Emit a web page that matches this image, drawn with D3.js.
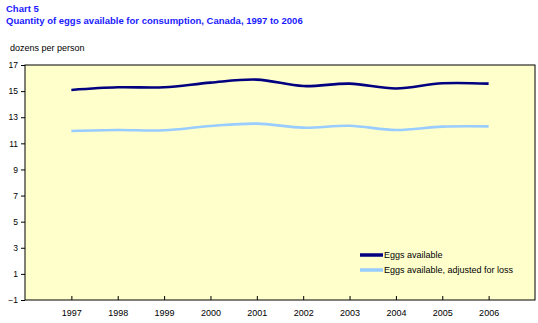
<!DOCTYPE html>
<html><head><meta charset="utf-8">
<script src="https://cdn.jsdelivr.net/npm/d3@7"></script>
<style>body{margin:0;background:#fff}svg{display:block}</style>
</head><body>
<script>
const years = [1997,1998,1999,2000,2001,2002,2003,2004,2005,2006];
const eggsAvailable = [15.09,15.29,15.29,15.65,15.88,15.39,15.57,15.2,15.6,15.57];
const eggsAdjusted = [11.95,12.02,12.0,12.33,12.51,12.2,12.35,12.02,12.28,12.3];
const yTicks = [-1,1,3,5,7,9,11,13,15,17];
const seriesNames = ["Eggs available","Eggs available, adjusted for loss"];
const colors = ["#000080","#99CCFF"];

const W=538,H=323;
const svg=d3.select("body").append("svg").attr("width",W).attr("height",H);
const L=25,R=535,T=65,B=300;
const x=d3.scaleLinear().domain([1996,2007]).range([L,R]);
const y=d3.scaleLinear().domain([-1,17]).range([B,T]);
const font="Arial, 'Liberation Sans', sans-serif";

svg.append("text").attr("x",6).attr("y",12).text("Chart 5")
 .attr("font-family",font).attr("font-weight","bold").attr("font-size",9.5).attr("fill","#1a1aff");
svg.append("text").attr("x",6).attr("y",24).text("Quantity of eggs available for consumption, Canada, 1997 to 2006")
 .attr("font-family",font).attr("font-weight","bold").attr("font-size",9.5).attr("fill","#1a1aff");
svg.append("text").attr("x",10).attr("y",51).text("dozens per person")
 .attr("font-family",font).attr("font-size",9).attr("fill","#000");

svg.append("rect").attr("x",L).attr("y",T).attr("width",R-L).attr("height",B-T)
 .attr("fill","#FFFFCC").attr("stroke","#000").attr("stroke-width",1);

const ya=svg.append("g").attr("transform",`translate(${L},0)`)
 .call(d3.axisLeft(y).tickValues(yTicks).tickSize(4).tickPadding(3).tickFormat(d3.format("d")));
ya.select(".domain").remove();
ya.selectAll("text").attr("font-family",font).attr("font-size",8.5).attr("fill","#000");

const xa=svg.append("g").attr("transform",`translate(0,${B})`)
 .call(d3.axisTop(x).tickValues(years).tickSize(4).tickFormat(d3.format("d")));
xa.select(".domain").remove();
xa.selectAll("text").attr("y",16).attr("font-family",font).attr("font-size",9).attr("fill","#000");

const line=d3.line().x((d,i)=>x(years[i])).y(d=>y(d)).curve(d3.curveCatmullRom.alpha(0.5));
[eggsAvailable,eggsAdjusted].forEach((s,k)=>{
  svg.append("path").attr("d",line(s)).attr("fill","none").attr("stroke",colors[k]).attr("stroke-width",2.6);
});

const lg=svg.append("g");
seriesNames.forEach((n,k)=>{
  const yy=255+k*15;
  lg.append("line").attr("x1",360).attr("x2",383).attr("y1",yy).attr("y2",yy)
    .attr("stroke",colors[k]).attr("stroke-width",3.5);
  lg.append("text").attr("x",384).attr("y",yy+3).text(n)
    .attr("font-family",font).attr("font-size",9).attr("fill","#000");
});
</script>
</body></html>
